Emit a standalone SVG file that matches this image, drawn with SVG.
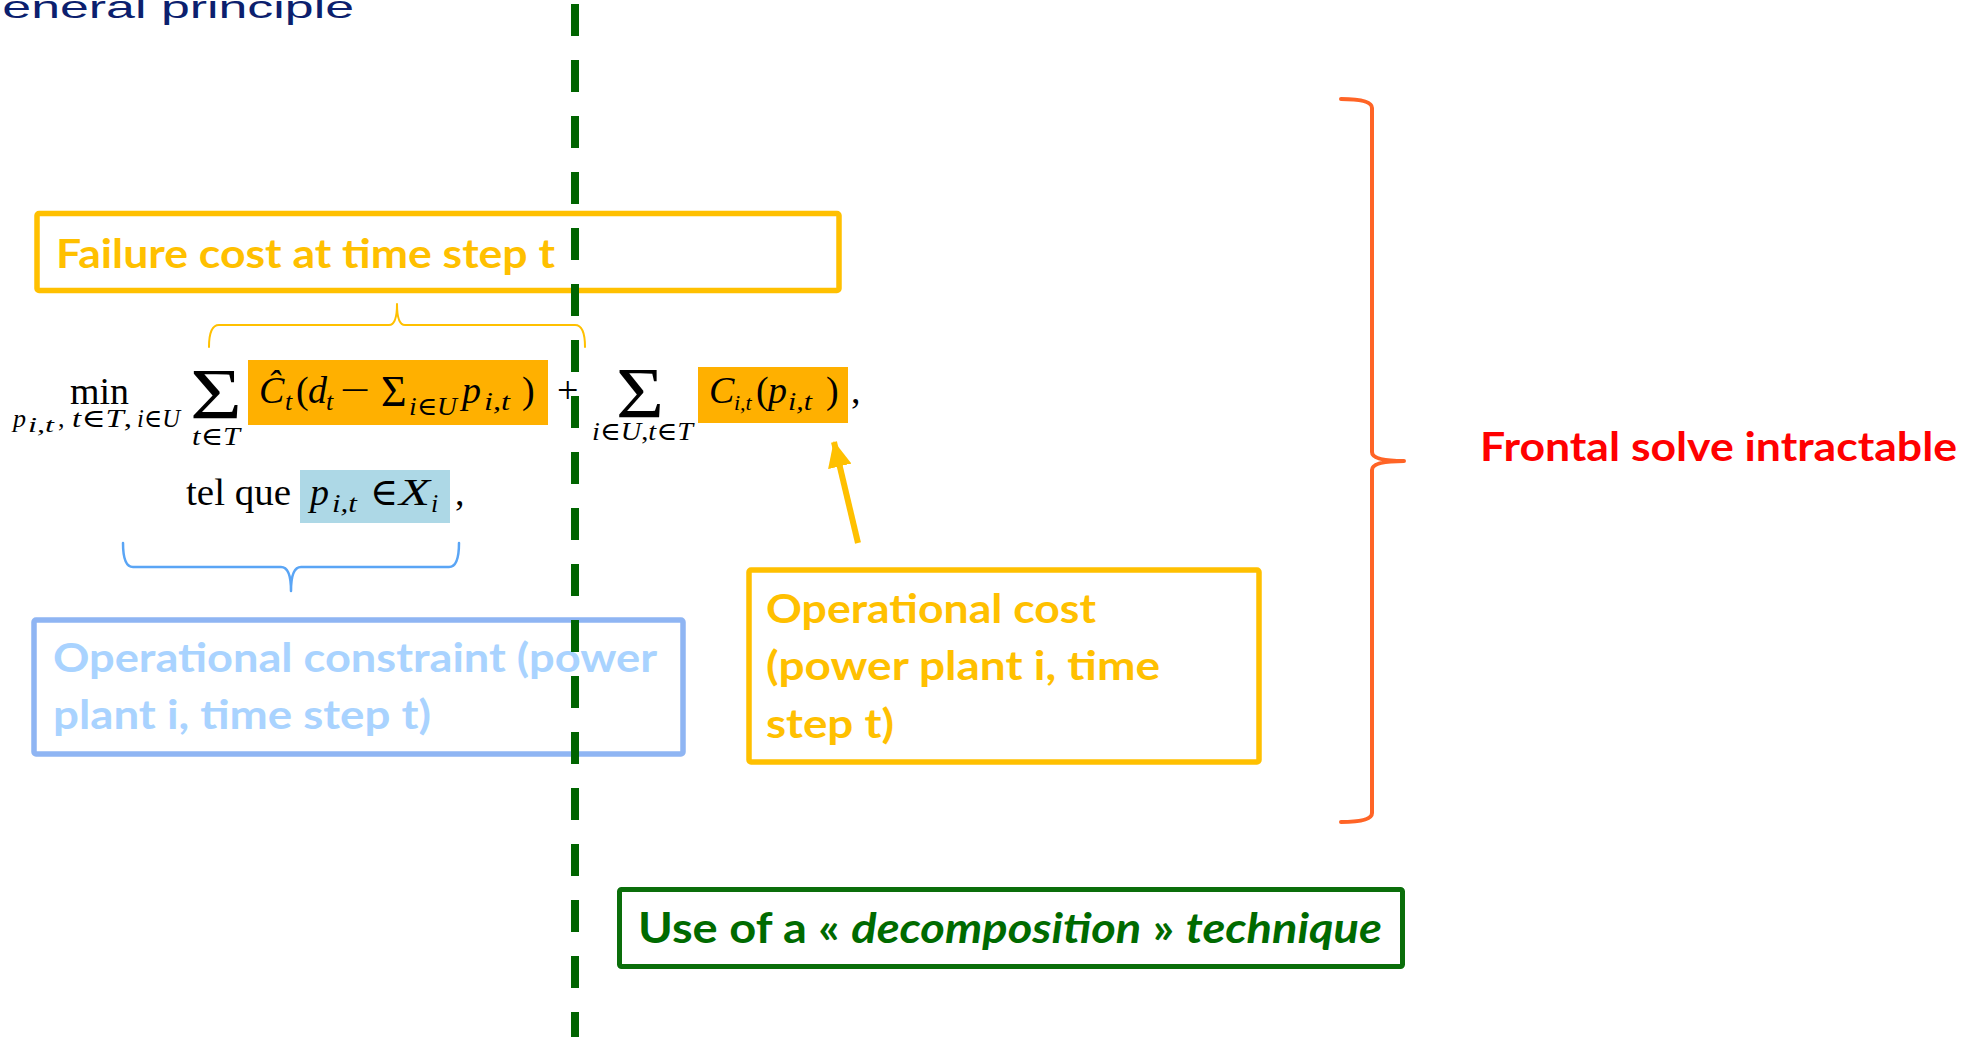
<svg xmlns="http://www.w3.org/2000/svg" width="1969" height="1037" viewBox="0 0 1969 1037">
<style>
.lbl{font-family:Lato,"Open Sans","Liberation Sans",sans-serif;font-weight:700;font-size:41px}
.yel{fill:#FFC000}
.m{font-family:"Liberation Serif","DejaVu Serif",serif;fill:#000}
.n{font-size:38px}
.s{font-size:26px}
.ss{font-size:20px}
.big{font-size:72px}
.it{font-style:italic}
.box{fill:#fff;stroke-width:5.5;stroke-linejoin:round}
.brace{fill:none;stroke-linecap:round;stroke-linejoin:round}
</style>
<defs>
<marker id="ah" markerUnits="userSpaceOnUse" markerWidth="26" markerHeight="24" refX="25" refY="12" orient="auto">
<path d="M0,0 L26,12 L0,24 Z" fill="#FFC000"/>
</marker>
</defs>
<rect width="1969" height="1037" fill="#fff"/>

<text id="title" x="-38" y="18" font-family="'Liberation Sans',Arial,sans-serif" font-size="32" fill="#0C1F6E" textLength="392" lengthAdjust="spacingAndGlyphs">General principle</text>

<g id="failure-cost">
<rect class="box" x="37" y="213.5" width="802" height="77" rx="2" stroke="#FFC000"/>
<text class="lbl yel" x="56" y="268" textLength="499" lengthAdjust="spacingAndGlyphs">Failure cost at time step t</text>
</g>

<g id="equation">
<text class="m n" x="70" y="404" textLength="59" lengthAdjust="spacingAndGlyphs">min</text>
<text class="m s it" x="13" y="427">p</text>
<text class="m ss it" x="28" y="432" textLength="26" lengthAdjust="spacingAndGlyphs">i,t</text>
<text class="m s" x="58" y="427">,</text>
<text class="m s" x="72" y="427" textLength="60" lengthAdjust="spacingAndGlyphs"><tspan class="it">t</tspan>∈<tspan class="it">T</tspan>,</text>
<text class="m s" x="137" y="427" textLength="43" lengthAdjust="spacingAndGlyphs"><tspan class="it">i</tspan>∈<tspan class="it">U</tspan></text>
<text class="m big" x="190" y="418" textLength="52" lengthAdjust="spacingAndGlyphs">Σ</text>
<text class="m s" x="192" y="445" textLength="48" lengthAdjust="spacingAndGlyphs"><tspan class="it">t</tspan>∈<tspan class="it">T</tspan></text>

<rect x="248" y="360" width="300" height="65" fill="#FFB000"/>
<text class="m n it" x="259" y="403">Ĉ</text>
<text class="m s it" x="285" y="410">t</text>
<text class="m n" x="296" y="403">(</text>
<text class="m n it" x="308" y="403">d</text>
<text class="m s it" x="326" y="410">t</text>
<text class="m n" x="340" y="403" textLength="30" lengthAdjust="spacingAndGlyphs">−</text>
<text class="m" x="381" y="406" style="font-size:44px">Σ</text>
<text class="m s" x="409" y="415" textLength="48" lengthAdjust="spacingAndGlyphs"><tspan class="it">i</tspan>∈<tspan class="it">U</tspan></text>
<text class="m n it" x="462" y="403">p</text>
<text class="m s it" x="484" y="410" textLength="26" lengthAdjust="spacingAndGlyphs">i,t</text>
<text class="m n" x="522" y="403">)</text>

<text class="m n" x="557" y="403">+</text>
<text class="m big" x="616" y="417" textLength="48" lengthAdjust="spacingAndGlyphs">Σ</text>
<text class="m s" x="592" y="440" textLength="101" lengthAdjust="spacingAndGlyphs"><tspan class="it">i</tspan>∈<tspan class="it">U</tspan>,<tspan class="it">t</tspan>∈<tspan class="it">T</tspan></text>

<rect x="698" y="367" width="150" height="56" fill="#FFB000"/>
<text class="m n it" x="709" y="403">C</text>
<text class="m it" x="734" y="410" style="font-size:22px">i,t</text>
<text class="m n" x="756" y="403">(</text>
<text class="m n it" x="768" y="403">p</text>
<text class="m s it" x="788" y="410" textLength="24" lengthAdjust="spacingAndGlyphs">i,t</text>
<text class="m n" x="826" y="403">)</text>
<text class="m n" x="851" y="403">,</text>

<text class="m n" x="186" y="505" textLength="105" lengthAdjust="spacingAndGlyphs">tel que</text>
<rect x="300" y="470" width="150" height="53" fill="#ADD8E6"/>
<text class="m n it" x="310" y="505">p</text>
<text class="m s it" x="332" y="512" textLength="25" lengthAdjust="spacingAndGlyphs">i,t</text>
<text class="m n" x="370" y="505">∈</text>
<text class="m n it" x="399" y="505" textLength="31" lengthAdjust="spacingAndGlyphs">X</text>
<text class="m s it" x="431" y="512">i</text>
<text class="m n" x="455" y="505">,</text>
</g>

<g id="brace-failure">
<path class="brace" stroke="#FFC000" stroke-width="2" d="M209,347 Q209,325 219,325 L389,325 Q397,325 397,304 Q397,325 405,325 L575,325 Q585,325 585,347"/>
</g>
<g id="brace-constraint">
<path class="brace" stroke="#5AA5F5" stroke-width="2.5" d="M123,543 Q123,567 133,567 L281,567 Q291,567 291,591 Q291,567 301,567 L449,567 Q459,567 459,543"/>
</g>

<g id="operational-constraint">
<rect class="box" x="34" y="620" width="649" height="134" rx="2" stroke="#8FB5F3"/>
<text class="lbl" fill="#A9D3FF" x="53" y="672" textLength="604" lengthAdjust="spacingAndGlyphs">Operational constraint (power</text>
<text class="lbl" fill="#A9D3FF" x="53" y="729" textLength="378" lengthAdjust="spacingAndGlyphs">plant i, time step t)</text>
</g>

<g id="operational-cost">
<rect class="box" x="749" y="570" width="510" height="192" rx="2" stroke="#FFC000"/>
<text class="lbl yel" x="766" y="623" textLength="330" lengthAdjust="spacingAndGlyphs">Operational cost</text>
<text class="lbl yel" x="766" y="680" textLength="394" lengthAdjust="spacingAndGlyphs">(power plant i, time</text>
<text class="lbl yel" x="766" y="738" textLength="128" lengthAdjust="spacingAndGlyphs">step t)</text>
</g>

<g id="decomposition">
<rect class="box" x="619.5" y="889.5" width="783" height="77" rx="2" stroke="#0A6E0A" style="stroke-width:5"/>
<text class="lbl" fill="#006A00" x="638" y="943" style="font-size:42px" textLength="744" lengthAdjust="spacingAndGlyphs">Use of a « <tspan font-style="italic">decomposition</tspan> » <tspan font-style="italic">technique</tspan></text>
</g>

<g id="frontal">
<path class="brace" stroke="#FF6426" stroke-width="4" d="M1341,99 Q1372,99 1372,108 L1372,452 Q1372,461 1404,461 Q1372,461 1372,470 L1372,813 Q1372,822 1341,822"/>
<text class="lbl" fill="#FF0000" x="1480" y="461" textLength="477" lengthAdjust="spacingAndGlyphs">Frontal solve intractable</text>
</g>

<g id="connectors">
<line x1="858" y1="543" x2="834" y2="442" stroke="#FFC000" stroke-width="6" marker-end="url(#ah)"/>
</g>

<g id="divider">
<line x1="575" y1="4" x2="575" y2="1037" stroke="#006400" stroke-width="8" stroke-dasharray="32 24"/>
</g>
</svg>
